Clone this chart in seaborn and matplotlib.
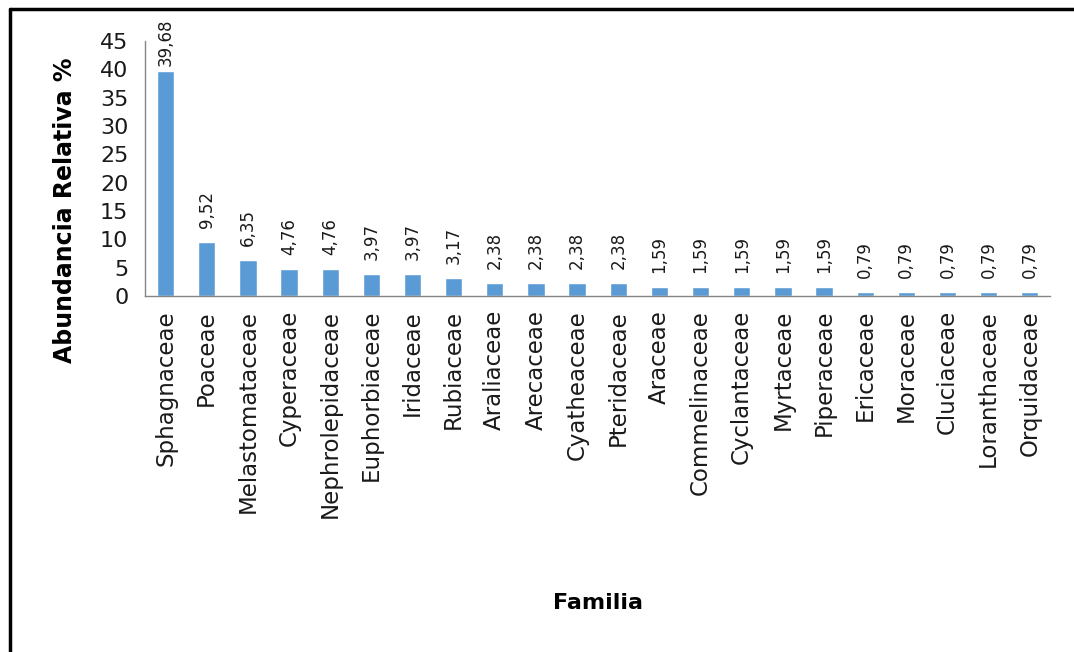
import numpy as np
import pandas as pd
import matplotlib
matplotlib.use("Agg")
import matplotlib.pyplot as plt
from matplotlib.lines import Line2D
import seaborn as sns

familias = ["Sphagnaceae", "Poaceae", "Melastomataceae", "Cyperaceae", "Nephrolepidaceae",
            "Euphorbiaceae", "Iridaceae", "Rubiaceae", "Araliaceae", "Arecaceae",
            "Cyatheaceae", "Pteridaceae", "Araceae", "Commelinaceae", "Cyclantaceae",
            "Myrtaceae", "Piperaceae", "Ericaceae", "Moraceae", "Cluciaceae",
            "Loranthaceae", "Orquidaceae"]
abundancia = [39.68, 9.52, 6.35, 4.76, 4.76, 3.97, 3.97, 3.17, 2.38, 2.38,
              2.38, 2.38, 1.59, 1.59, 1.59, 1.59, 1.59, 0.79, 0.79, 0.79,
              0.79, 0.79]
y_ticks = [0, 5, 10, 15, 20, 25, 30, 35, 40, 45]

df = pd.DataFrame({"Familia": familias, "Abundancia": abundancia})

sns.set_style("white")
plt.rcParams['font.family'] = ['DejaVu Sans']
grey = "#868686"

fig = plt.figure(figsize=(10.74, 6.52), dpi=100)
ax = fig.add_axes([0.135, 0.546, 0.843, 0.391])

sns.barplot(data=df, x="Familia", y="Abundancia", color="#5B9BD5",
            saturation=1, width=0.42, ax=ax)

# value labels, the tallest one squeezed closer to its bar (no room above)
for i, v in enumerate(abundancia):
    off = 4 if v > 35 else 10
    ax.annotate(f"{v:.2f}".replace(".", ","), xy=(i, v), xytext=(0, off),
                textcoords="offset points", rotation=90, ha="center", va="bottom",
                fontsize=12, color="#1a1a1a", annotation_clip=False)

ax.set_xlim(-0.5, len(familias) - 0.5)
ax.set_ylim(0, 45)
ax.set_yticks(y_ticks)
ax.set_yticklabels([str(t) for t in y_ticks], fontsize=16, color="#1a1a1a")
ax.set_xticks(range(len(familias)))
ax.set_xticklabels(familias, rotation=90, fontsize=16.5, color="#1a1a1a")
ax.set_xticks(np.arange(-0.5, len(familias), 1), minor=True)
ax.tick_params(axis="x", which="major", length=0, pad=10)
ax.tick_params(axis="x", which="minor", length=9, color=grey, width=1, direction="out")
ax.tick_params(axis="y", length=8, color=grey, width=1, direction="out", pad=4)

sns.despine(ax=ax)
for s in ["left", "bottom"]:
    ax.spines[s].set_color(grey)
    ax.spines[s].set_linewidth(1)

ax.set_ylabel("")
ax.set_xlabel("")
fig.text(65 / 1074, 1 - 210 / 652, "Abundancia Relativa %", fontsize=17, fontweight="bold",
         rotation=90, ha="center", va="center", color="black")
fig.text(598 / 1074, 1 - 603 / 652, "Familia", fontsize=16, fontweight="bold",
         ha="center", va="center", color="black")

# frame around the chart area (left and top)
fig.add_artist(Line2D([10 / 1074, 10 / 1074], [0, 1 - 9 / 652], color="black", lw=2.5,
                      transform=fig.transFigure))
fig.add_artist(Line2D([10 / 1074, 1], [1 - 9 / 652, 1 - 9 / 652], color="black", lw=2.5,
                      transform=fig.transFigure))

fig.savefig("out.png", dpi=100)
